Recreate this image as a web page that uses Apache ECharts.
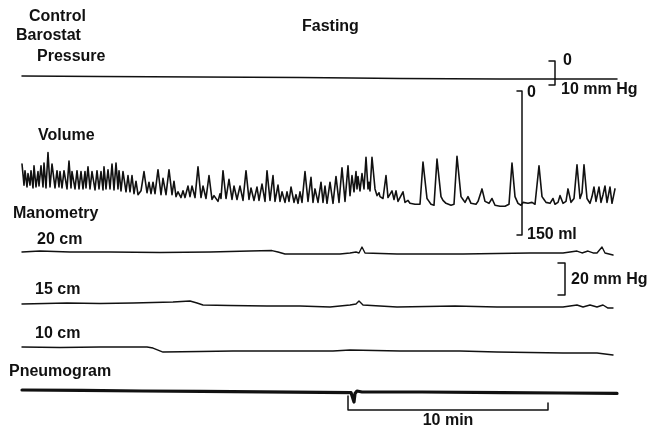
<!DOCTYPE html>
<html><head><meta charset="utf-8">
<script src="https://cdn.jsdelivr.net/npm/echarts@6/dist/echarts.min.js"></script>
<style>html,body{margin:0;padding:0;background:#fff}#c{width:665px;height:431px}</style>
</head><body><div id="c"></div>
<script>
// ---- DATA (time in minutes) ----
const timeRange = [0, 30];
// barostat pressure, mm Hg (scale 0..10)
const pressure = [[0,6.25],[3.9,6.5],[8.9,6.7],[13.9,6.9],[16.5,7.1],[18.9,7.3],[23.9,7.5],[29.75,7.5]];
// barostat volume, ml (scale 0..150)
const volume = [
[0,76],[0.1,98],[0.15,83],[0.25,100],[0.3,86],[0.4,98],[0.45,83],[0.55,101],[0.6,78],[0.7,100],
[0.8,84],[0.85,99],[0.95,78],[1.05,100],[1.1,75],[1.2,101],[1.3,64],[1.4,100],[1.5,76],[1.65,101],
[1.75,83],[1.85,100],[1.9,84],[2.0,101],[2.1,83],[2.25,102],[2.35,73],[2.45,101],[2.5,84],[2.65,102],
[2.75,83],[2.85,102],[2.95,84],[3.05,102],[3.15,84],[3.2,101],[3.3,79],[3.4,102],[3.5,84],[3.65,103],
[3.75,83],[3.85,102],[3.95,84],[4.05,103],[4.1,79],[4.2,102],[4.3,82],[4.4,102],[4.5,76],[4.6,103],
[4.7,75],[4.8,102],[4.85,83],[4.95,104],[5.05,84],[5.2,105],[5.3,88],[5.4,105],[5.5,88],[5.6,107],
[5.7,94],[5.8,108],[5.95,104],[6.1,84],[6.25,106],[6.35,95],[6.45,107],[6.55,95],[6.65,107],[6.8,82],[6.95,108],
[7.05,91],[7.2,108],[7.35,82],[7.5,108],[7.6,94],[7.7,110],[7.8,105],[7.95,111],[8.05,104],[8.15,111],
[8.3,99],[8.4,110],[8.5,99],[8.65,111],[8.8,79],[8.95,111],[9.05,99],[9.2,112],[9.35,88],[9.5,113],
[9.6,109],[9.8,115],[9.9,107],[9.95,112],[10.05,83],[10.2,112],[10.35,92],[10.5,113],[10.6,99],[10.75,113],
[10.9,99],[11.05,114],[11.2,83],[11.35,113],[11.45,101],[11.6,114],[11.75,100],[11.85,114],[12.0,97],[12.15,115],
[12.25,83],[12.4,114],[12.55,88],[12.65,115],[12.8,98],[12.9,115],[13.0,105],[13.15,116],[13.25,105],[13.35,115],
[13.45,100],[13.6,116],[13.7,108],[13.8,117],[13.9,105],[14.0,116],[14.15,84],[14.3,115],[14.45,90],[14.55,116],
[14.65,102],[14.8,116],[14.95,95],[15.05,116],[15.15,99],[15.25,117],[15.4,95],[15.55,117],[15.7,89],[15.85,116],
[16.0,80],[16.15,115],[16.3,78],[16.4,109],[16.5,88],[16.6,105],[16.7,84],[16.75,102],[16.8,89],[16.9,104],
[17.0,86],[17.1,102],[17.2,69],[17.3,102],[17.35,95],[17.4,104],[17.5,69],[17.65,102],[17.75,109],[17.85,106],[17.9,110],
[18.05,112],[18.2,88],[18.3,111],[18.4,112],[18.5,104],[18.6,113],[18.7,104],[18.8,115],[18.9,114],[19.05,105],
[19.15,116],[19.3,114],[19.4,117],[19.5,115],[19.65,118],[19.75,116],[19.9,118],[20.05,74],[20.25,112],[20.35,115],[20.45,118],[20.6,119],[20.75,71],[20.95,110],
[21.05,114],[21.2,117],[21.3,115],[21.45,119],[21.6,118],[21.75,68],[21.95,110],[22.05,113],[22.15,116],[22.3,110],[22.45,117],[22.55,115],[22.7,118],[22.8,115],[22.9,116],
[23.0,102],[23.15,115],[23.25,114],[23.35,117],[23.5,112],[23.65,119],[23.75,117],[23.9,120],[24.0,118],[24.15,120],[24.35,118],[24.5,75],[24.65,110],
[24.8,117],[24.95,119],[25.05,116],[25.15,118],[25.3,117],[25.4,119],[25.5,116],[25.65,118],[25.85,78],[26.0,110],[26.1,113],[26.2,116],[26.4,117],[26.55,112],
[26.65,118],[26.8,116],[26.9,109],[27.05,117],[27.2,115],[27.3,102],[27.45,116],[27.6,112],[27.75,77],[27.9,112],
[28.0,106],[28.1,77],[28.25,112],[28.4,117],[28.5,110],[28.6,100],[28.7,115],[28.85,100],[28.95,116],[29.05,108],
[29.15,99],[29.25,116],[29.4,100],[29.5,117],[29.65,102]
];
// manometry, mm Hg
const mano20 = [[0,5.0],[0.9,5.6],[2.4,5.0],[4.4,5.0],[6.9,4.7],[9.4,5.0],[11.4,5.6],[12.5,5.9],[12.8,5.0],[13.15,3.75],
[14.4,3.75],[15.9,3.75],[16.4,4.4],[16.7,5.0],[16.85,4.4],[17.0,8.1],[17.15,4.4],[18.75,3.75],[22.05,3.75],[25.4,4.4],
[27.05,4.4],[27.75,5.6],[28.0,4.4],[28.3,5.6],[28.55,4.4],[28.75,4.4],[29.0,8.1],[29.15,4.4],[29.55,3.1]];
const mano15 = [[0,5.6],[1.15,5.9],[2.25,6.25],[3.9,5.9],[5.55,6.25],[7.55,6.9],[8.4,7.5],[8.75,6.25],[9.05,5.0],[10.4,4.7],
[12.25,4.4],[13.9,4.4],[15.4,3.75],[16.4,5.0],[16.7,5.6],[16.85,7.5],[17.05,5.0],[18.75,3.75],[21.65,4.4],[23.75,3.75],
[27.05,3.75],[27.75,5.0],[28.05,3.75],[28.4,5.0],[28.75,3.75],[29.05,5.0],[29.3,3.1],[29.55,3.1]];
const mano10 = [[0,6.25],[1.9,5.9],[3.9,6.25],[6.25,6.25],[6.55,5.6],[7.05,3.1],[8.9,3.4],[10.55,3.75],[13.4,3.75],[15.55,3.75],
[16.4,4.4],[18.9,3.75],[21.9,3.75],[23.75,3.1],[27.05,2.5],[28.75,2.5],[29.55,1.25]];
// pneumogram, arbitrary units
const pneumogram = [[0,5.0],[3,4.8],[6,4.5],[9,4.3],[12,4.1],[15,3.8],[16.45,3.7],[16.55,4.3],[16.6,-1.0],[16.65,3.2],
[16.75,4.5],[17.0,4.0],[20,4.0],[24,3.7],[27,3.5],[29.75,3.3]];
// calibration bars
const pressureBar = [0, 10];   // mm Hg
const volumeBar = [0, 150];    // ml
const manoBar = [0, 20];       // mm Hg
const timeBar = [16.3, 26.3];  // 10 min
const traceLabels = ['Control', 'Barostat', 'Pressure', 'Fasting', 'Volume', 'Manometry', '20 cm', '15 cm', '10 cm', 'Pneumogram'];

// ---- CHART ----
const INK = '#111';
const FONT = 'bold 16px "Liberation Sans", Arial, sans-serif';
const gridBoxes = [
  {top: 61, height: 24},   // 0 pressure
  {top: 91, height: 144},  // 1 volume
  {top: 228, height: 32},  // 2 manometry 20 cm
  {top: 281, height: 32},  // 3 manometry 15 cm
  {top: 325, height: 32},  // 4 manometry 10 cm
  {top: 380, height: 30},  // 5 pneumogram
  {top: 396, height: 14},  // 6 time bar
  {top: 263, height: 32}   // 7 mm Hg bar
];
const yRanges = [
  {min: 0, max: 10, inverse: true},
  {min: 0, max: 150, inverse: true},
  {min: 0, max: 20}, {min: 0, max: 20}, {min: 0, max: 20},
  {min: -5, max: 10},
  {min: 0, max: 1},
  {min: 0, max: 20}
];
const grid = gridBoxes.map(g => ({left: 22, width: 600, top: g.top, height: g.height}));
const xAxis = grid.map((g, i) => ({gridIndex: i, type: 'value', min: timeRange[0], max: timeRange[1], show: false}));
const yAxis = yRanges.map((r, i) => Object.assign({gridIndex: i, type: 'value', show: false}, r));

function line(idx, data, width) {
  return {type: 'line', xAxisIndex: idx, yAxisIndex: idx, data: data, showSymbol: false, symbol: 'none',
    animation: false, silent: true, clip: false,
    lineStyle: {color: INK, width: width, join: 'round', cap: 'round'}};
}
function bracket(t, len, a, b) { return [[t - len, a], [t, a], [t, b], [t - len, b]]; }

const series = [
  line(0, pressure, 1.5),
  line(1, volume, 1.6),
  line(2, mano20, 1.4),
  line(3, mano15, 1.4),
  line(4, mano10, 1.4),
  line(5, pneumogram, 3.2),
  line(0, bracket(26.65, 0.3, pressureBar[0], pressureBar[1]), 1.5),
  line(1, bracket(25.0, 0.25, volumeBar[0], volumeBar[1]), 1.5),
  line(7, bracket(27.15, 0.35, manoBar[1], manoBar[0]), 1.5),
  line(6, [[timeBar[0], 1], [timeBar[0], 0], [timeBar[1], 0], [timeBar[1], 0.5]], 1.5)
];

const chart = echarts.init(document.getElementById('c'), null, {renderer: 'canvas'});
chart.setOption({backgroundColor: '#fff', animation: false, grid, xAxis, yAxis, series});

function px(gi, t, v) { return chart.convertToPixel({gridIndex: gi}, [t, v]); }
function txt(text, x, y, align) {
  return {type: 'text', silent: true, style: {text: text, x: x, y: y, font: FONT, fill: INK,
    textAlign: align || 'left', textVerticalAlign: 'middle'}};
}
const labelPos = [[29, 17], [16, 36], [37, 57], [302, 27], [38, 136], [13, 214], [37, 240], [35, 290], [35, 334], [9, 372]];
const graphics = traceLabels.map((s, i) => txt(s, labelPos[i][0], labelPos[i][1]));
let p;
p = px(0, 26.65, pressureBar[0]); graphics.push(txt('0', p[0] + 8, p[1]));
p = px(0, 26.65, pressureBar[1]); graphics.push(txt('10 mm Hg', p[0] + 6, p[1] + 5));
p = px(1, 25.0, volumeBar[0]); graphics.push(txt('0', p[0] + 5, p[1] + 2));
p = px(1, 25.0, volumeBar[1]); graphics.push(txt('150 ml', p[0] + 5, p[1]));
p = px(7, 27.15, (manoBar[0] + manoBar[1]) / 2); graphics.push(txt('20 mm Hg', p[0] + 6, p[1] + 1));
p = px(6, (timeBar[0] + timeBar[1]) / 2, 0); graphics.push(txt('10 min', p[0], p[1] + 11, 'center'));
chart.setOption({graphic: graphics});
</script></body></html>
